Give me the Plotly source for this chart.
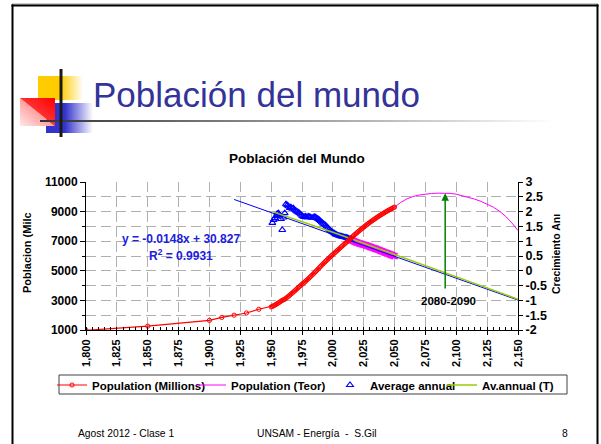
import base64
import plotly.graph_objects as go

# ---------------- data ----------------
pop_years = [1750, 1800, 1850, 1900, 1910, 1920, 1930, 1940] + list(range(1950, 2051))
pop_values = [791, 978, 1262, 1650, 1850, 2000, 2150, 2400,
              2557, 2594, 2636, 2682, 2730, 2782, 2835, 2891, 2948, 3001,
              3043, 3084, 3140, 3210, 3281, 3350, 3421, 3490, 3562, 3637,
              3713, 3790, 3867, 3942, 4017, 4089, 4160, 4232, 4304, 4379,
              4451, 4534, 4615, 4696, 4775, 4856, 4941, 5029, 5117, 5205,
              5295, 5381, 5465, 5547, 5628, 5709, 5789, 5868, 5946, 6024,
              6101, 6177, 6252, 6327, 6401, 6476, 6551, 6626, 6702, 6778,
              6853, 6929, 7006, 7083, 7160, 7236, 7312, 7387, 7461, 7534,
              7606, 7677, 7747, 7816, 7884, 7951, 8017, 8082, 8146, 8209,
              8271, 8332, 8392, 8451, 8509, 8566, 8622, 8677, 8731, 8784,
              8836, 8887, 8937, 8986, 9034, 9081, 9127, 9172, 9216, 9259,
              9301]

teor_years = [2050, 2055, 2060, 2065, 2070, 2075, 2080, 2085, 2090, 2095, 2100,
              2105, 2110, 2115, 2120, 2125, 2130, 2135, 2140, 2145, 2150]
teor_values = [9301, 9620, 9860, 10020, 10120, 10185, 10225, 10245, 10250, 10230, 10175,
               10080, 9970, 9840, 9690, 9510, 9300, 9030, 8680, 8240, 7720]

rate_years = list(range(1951, 2016))
rate_values = [1.62, 1.72, 1.78, 1.85, 1.93, 1.95, 1.88, 1.75, 1.38, 1.80,
               1.95, 2.25, 2.22, 2.18, 2.12, 2.15, 2.10, 2.12, 2.06, 2.03,
               2.00, 1.97, 1.95, 1.90, 1.86, 1.83, 1.82, 1.84, 1.80, 1.84,
               1.82, 1.81, 1.79, 1.80, 1.82, 1.81, 1.78, 1.75, 1.72, 1.68,
               1.64, 1.60, 1.57, 1.54, 1.50, 1.45, 1.40, 1.36, 1.33, 1.30,
               1.27, 1.24, 1.22, 1.20, 1.19, 1.17, 1.16, 1.15, 1.14, 1.13,
               1.12, 1.11, 1.09, 1.07, 1.05]

proj_rate_years = list(range(2012, 2051))
proj_rate_values = [1.08, 1.06, 1.05, 1.03, 1.02, 1.00, 0.98, 0.96, 0.95, 0.93,
                    0.92, 0.91, 0.89, 0.88, 0.87, 0.86, 0.84, 0.83, 0.81, 0.80,
                    0.78, 0.77, 0.75, 0.74, 0.72, 0.71, 0.69, 0.67, 0.66, 0.64,
                    0.62, 0.61, 0.59, 0.58, 0.56, 0.54, 0.53, 0.51, 0.49]

trend_years = [1920, 2150]
trend_values = [2.41, -0.99]

avT_years = [1951, 2000, 2050, 2100, 2150]
avT_values = [2.00, 1.30, 0.55, -0.20, -0.96]

peak_year = 2091
peak_value = 10245
arrow_base_value = 3700

rate_tick_vals = [-2, -1.5, -1, -0.5, 0, 0.5, 1, 1.5, 2, 2.5, 3]
rate_tick_text = ["-2", "-1.5", "-1", "-0.5", "0", "0.5", "1", "1.5", "2", "2.5", "3"]

# ---------------- geometry helpers (page pixels) ----------------
PAGE_W, PAGE_H = 601, 444
L, R, T, B = 86, 518, 182, 330   # plot area in page pixels


def px(x):
    return (x - L) / (R - L)


def py(y):
    return (B - y) / (B - T)


FONT = "Liberation Sans"

fig = go.Figure()

# rate traces (primary y, right side)
fig.add_trace(go.Scatter(x=proj_rate_years, y=proj_rate_values, mode="markers",
                         marker=dict(symbol="x-thin-open", size=6, color="#ff00ff",
                                     line=dict(width=1.6, color="#ff00ff")),
                         showlegend=False, yaxis="y", hoverinfo="skip"))
fig.add_trace(go.Scatter(x=rate_years, y=rate_values, mode="markers", name="Average annual",
                         marker=dict(symbol="triangle-up-open", size=6, color="#0000ff",
                                     line=dict(width=1.1, color="#0000ff")),
                         legend="legend3", yaxis="y"))
fig.add_trace(go.Scatter(x=trend_years, y=trend_values, mode="lines",
                         line=dict(color="#0000ff", width=1), showlegend=False, yaxis="y"))
fig.add_trace(go.Scatter(x=avT_years, y=avT_values, mode="lines", name="Av.annual (T)",
                         line=dict(color="#99cc00", width=1.5), legend="legend4", yaxis="y"))

# population traces (y2, left side)
fig.add_trace(go.Scatter(x=teor_years, y=teor_values, mode="lines", name="Population (Teor)",
                         line=dict(color="#ff00ff", width=1), legend="legend2", yaxis="y2"))
fig.add_trace(go.Scatter(x=pop_years, y=pop_values, mode="lines+markers",
                         name="Population (Millions)",
                         line=dict(color="#ff0000", width=1.2),
                         marker=dict(symbol="circle-open", size=4.2, color="#ff0000",
                                     line=dict(width=1, color="#ff0000")),
                         legend="legend", yaxis="y2"))

GRID = "#b0b0b0"
DASH = "10px,5px"
LEG_FONT = dict(family=FONT, size=11.5, color="black", weight="bold")


def leg(x_left):
    return dict(orientation="h", x=px(x_left), y=py(385), xanchor="left", yanchor="middle",
                borderwidth=0, bgcolor="rgba(0,0,0,0)", font=LEG_FONT, itemwidth=30)


fig.update_layout(
    width=PAGE_W, height=PAGE_H,
    margin=dict(l=L, r=PAGE_W - R, t=T, b=PAGE_H - B, pad=0, autoexpand=False),
    paper_bgcolor="white", plot_bgcolor="white",
    font=dict(family=FONT, color="black"),
    showlegend=True,
    xaxis=dict(range=[1800, 2150], tick0=1800, dtick=25, tickformat=",d",
               tickangle=-90, tickfont=dict(size=11, weight="bold", family=FONT),
               showline=True, linecolor="black", linewidth=1,
               ticks="outside", ticklen=4, tickcolor="black",
               showgrid=True, gridcolor=GRID, griddash=DASH, gridwidth=1,
               zeroline=False,
               minor=dict(dtick=5, ticks="inside", ticklen=3, tickcolor="black", showgrid=False)),
    yaxis=dict(range=[-2, 3], side="right", tickmode="array",
               tickvals=rate_tick_vals, ticktext=rate_tick_text,
               tickfont=dict(size=12.5, weight="bold", family=FONT),
               showline=True, linecolor="black", linewidth=1,
               ticks="outside", ticklen=4, tickcolor="black",
               showgrid=True, gridcolor=GRID, griddash=DASH, gridwidth=1,
               zeroline=False),
    yaxis2=dict(range=[1000, 11000], side="left", overlaying="y", anchor="x",
                tick0=1000, dtick=2000, tickformat="d",
                tickfont=dict(size=12, weight="bold", family=FONT),
                showline=True, linecolor="black", linewidth=1,
                ticks="outside", ticklen=5, tickcolor="black",
                showgrid=False, zeroline=False,
                minor=dict(dtick=1000, tick0=1000, ticks="outside", ticklen=3,
                           tickcolor="black", showgrid=False)),
    legend=leg(52),
    legend2=leg(191),
    legend3=leg(330),
    legend4=leg(442),
)

# legend frame
fig.add_shape(type="rect", xref="paper", yref="paper", x0=px(59), x1=px(567),
              y0=py(394), y1=py(375), line=dict(color="#404040", width=1),
              fillcolor="white", layer="below")

# green arrow to the peak
fig.add_annotation(x=peak_year, y=peak_value, xref="x", yref="y2",
                   ax=peak_year, ay=arrow_base_value, axref="x", ayref="y2",
                   text="", showarrow=True, arrowhead=2, arrowsize=1, arrowwidth=1.5,
                   arrowcolor="#008000", standoff=0)

ann = [
    dict(text="Población del mundo", x=px(91), y=py(94.5), xanchor="left", yanchor="middle",
         font=dict(family=FONT, size=35, color="#333399")),
    dict(text="Población del Mundo", x=px(297), y=py(158), xanchor="center", yanchor="middle",
         font=dict(family=FONT, size=13.5, color="black", weight="bold")),
    dict(text="Poblacion (Milc", x=px(27), y=py(253), xanchor="center", yanchor="middle",
         textangle=-90, font=dict(family=FONT, size=11, color="black", weight="bold")),
    dict(text="Crecimiento Anı", x=px(556), y=py(254), xanchor="center", yanchor="middle",
         textangle=-90, font=dict(family=FONT, size=10.5, color="black", weight="bold")),
    dict(text="y = -0.0148x + 30.827", x=px(181), y=py(239), xanchor="center", yanchor="middle",
         font=dict(family=FONT, size=12, color="#2020e0", weight="bold")),
    dict(text="R<sup>2</sup> = 0.9931", x=px(181), y=py(255), xanchor="center", yanchor="middle",
         font=dict(family=FONT, size=12, color="#2020e0", weight="bold")),
    dict(text="2080-2090", x=px(448), y=py(301), xanchor="center", yanchor="middle",
         font=dict(family=FONT, size=11.5, color="black", weight="bold")),
    dict(text="Agost 2012 - Clase 1", x=px(76), y=py(433), xanchor="left", yanchor="middle",
         font=dict(family=FONT, size=10.3, color="black")),
    dict(text="UNSAM - Energía \u00a0- \u00a0S.Gil", x=px(317), y=py(433), xanchor="center",
         yanchor="middle", font=dict(family=FONT, size=10.3, color="black")),
    dict(text="8", x=px(565), y=py(433), xanchor="center", yanchor="middle",
         font=dict(family=FONT, size=10.3, color="black")),
]
for a in ann:
    fig.add_annotation(xref="paper", yref="paper", showarrow=False, **a)

# slide decoration (frame + logo), in page pixels
svg = """<svg xmlns="http://www.w3.org/2000/svg" width="601" height="444" viewBox="0 0 601 444">
<defs>
<linearGradient id="gy" x1="0" y1="0" x2="1" y2="0"><stop offset="0" stop-color="#ffcc00"/><stop offset="0.5" stop-color="#ffcc00"/><stop offset="1" stop-color="#ffcc00" stop-opacity="0"/></linearGradient>
<linearGradient id="gb" x1="0" y1="0" x2="1" y2="0"><stop offset="0" stop-color="#3333cc"/><stop offset="0.4" stop-color="#3333cc"/><stop offset="1" stop-color="#3333cc" stop-opacity="0"/></linearGradient>
<linearGradient id="gr" x1="1" y1="0" x2="0" y2="1"><stop offset="0" stop-color="#ff0000"/><stop offset="0.5" stop-color="#ff3030"/><stop offset="1" stop-color="#ff8080"/></linearGradient>
<linearGradient id="gp" x1="1" y1="0" x2="0" y2="1"><stop offset="0.4" stop-color="#ff9090"/><stop offset="1" stop-color="#ffe8e8"/></linearGradient>
<linearGradient id="gl" x1="0" y1="0" x2="1" y2="0"><stop offset="0" stop-color="#333333"/><stop offset="0.5" stop-color="#999999"/><stop offset="1" stop-color="#ffffff"/></linearGradient>
</defs>
<rect x="12" y="3.5" width="586" height="1" fill="#999999"/>
<rect x="11.5" y="4.5" width="2" height="440" fill="#000000"/>
<rect x="11.5" y="4.5" width="587" height="2" fill="#000000"/>
<rect x="596.5" y="4.5" width="2" height="440" fill="#000000"/>
<rect x="38" y="76" width="45" height="24" fill="url(#gy)"/>
<rect x="46" y="103" width="47" height="30" fill="url(#gb)"/>
<polygon points="20,98 20,126 55,126" fill="url(#gp)"/>
<polygon points="20,98 55,98 55,126" fill="url(#gr)"/>
<rect x="40" y="120" width="515" height="2" fill="url(#gl)"/>
<rect x="59.5" y="69" width="3" height="68" fill="#1a1a1a"/>
</svg>"""
src = "data:image/svg+xml;base64," + base64.b64encode(svg.encode("utf-8")).decode("ascii")
fig.add_layout_image(dict(source=src, xref="paper", yref="paper", x=px(0), y=py(0),
                          sizex=PAGE_W / (R - L), sizey=PAGE_H / (B - T),
                          xanchor="left", yanchor="top", sizing="stretch", layer="below"))

# the page's default body margin would shift the 601x444 figure; remove it
fig.write_html("out.html",
               config={"displayModeBar": False},
               post_script="document.body.style.margin='0';document.body.style.overflow='hidden';")
